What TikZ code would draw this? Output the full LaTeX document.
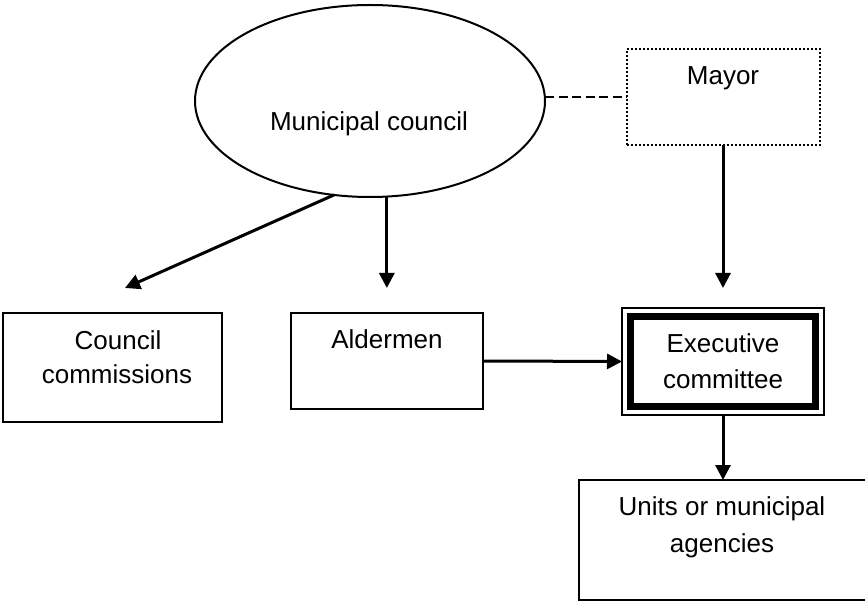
\documentclass[tikz,border=0pt]{standalone}
\usepackage{fontspec}
\setmainfont{Liberation Sans}
\usetikzlibrary{arrows.meta,shapes.geometric}
\begin{document}
\begin{tikzpicture}[x=1pt,y=-1pt,
  box/.style={draw,line width=2pt,inner sep=0pt,outer sep=0pt,rectangle},
  txt/.style={font=\fontsize{26}{36}\selectfont,inner sep=0pt,anchor=base},
  arr/.style={line width=3pt,-{Triangle[length=15pt,width=15pt]}},
]
\useasboundingbox (0,0) rectangle (865,601);
% shapes
\node[ellipse,draw,line width=2pt,minimum width=350pt,minimum height=192pt,inner sep=0pt,outer sep=0pt] (mc) at (370,101) {};
\node[box,dash pattern=on 2pt off 2pt,minimum width=193pt,minimum height=96pt] (mayor) at (723,97) {};
\node[box,minimum width=219pt,minimum height=109pt] (cc) at (112.5,367.5) {};
\node[box,minimum width=192pt,minimum height=96pt] (ald) at (387,361) {};
\node[box,line width=1.5pt,minimum width=202pt,minimum height=107pt] (exec) at (723,361.5) {};
\draw[line width=7pt] ([shift={(8.5,8.5)}]exec.north west) rectangle ([shift={(-8.5,-8.5)}]exec.south east);
\node[box,minimum width=292pt,minimum height=120pt] (units) at (725,540) {};
% texts
\node[txt] (mct) at (369,131) {Municipal council};
\node[txt] (mayt) at (723,85) {Mayor};
\node[txt] (cct1) at (118,350) {Council};
\node[txt] (cct2) at (117,384) {commissions};
\node[txt] (aldt) at (387,349) {Aldermen};
\node[txt] (ext1) at (723,353) {Executive};
\node[txt] (ext2) at (723,389) {committee};
\node[txt] (unt1) at (722,515) {Units or municipal};
\node[txt] (unt2) at (722,552) {agencies};
% connectors
\coordinate (cctip) at (125,288);
\draw[line width=2pt,dash pattern=on 9pt off 4.5pt] (mayor.west -| mc.east) -- (mayor.west);
\draw[arr] (mc.249.6) -- (cctip);
\draw[arr,shorten >=25pt] (mc.280.1) -- (mc.280.1 |- ald.north);
\draw[arr,shorten >=20pt] (mayor.south) -- (exec.north);
\draw[arr] (ald.east) -- (exec.west);
\draw[arr] (exec.south) -- (exec.south |- units.north);
\end{tikzpicture}
\end{document}
